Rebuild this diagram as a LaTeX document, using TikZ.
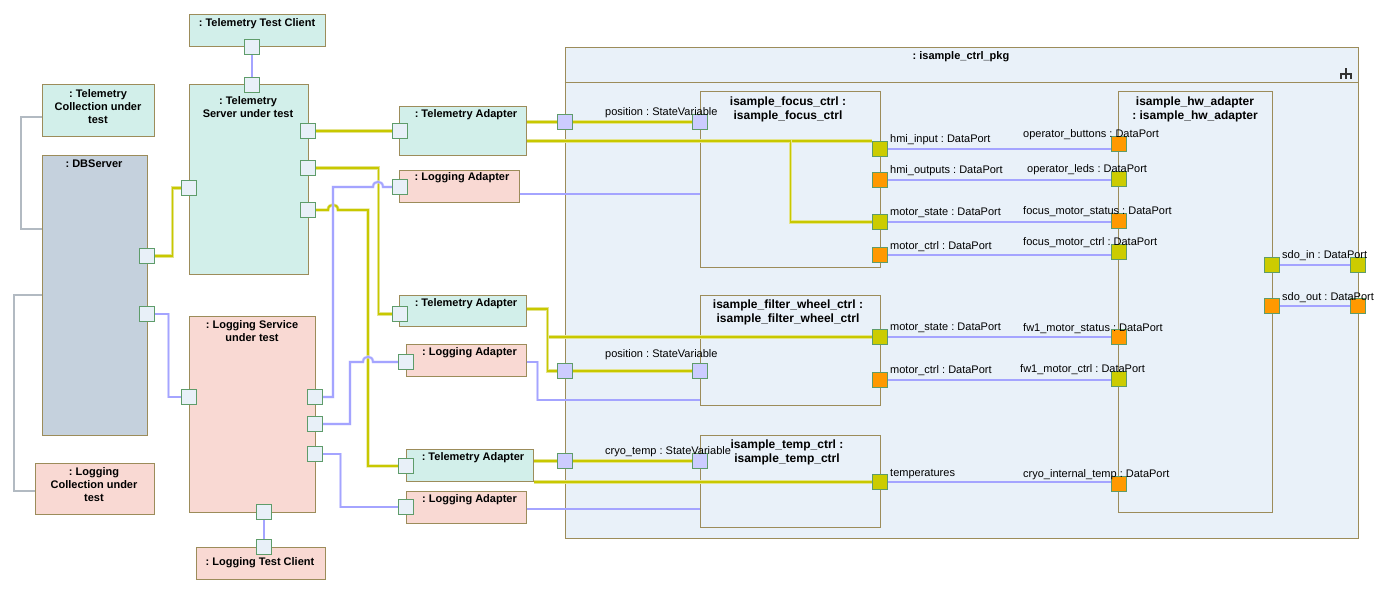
\documentclass[tikz,border=0pt]{standalone}
\usepackage{fontspec}
\setmainfont{Liberation Sans}
\usetikzlibrary{calc}
\frenchspacing
\definecolor{tfill}{HTML}{D2EFEA}
\definecolor{lfill}{HTML}{F9D9D3}
\definecolor{dbfill}{HTML}{C5D1DD}
\definecolor{pkgfill}{HTML}{E9F1F9}
\definecolor{boxc}{HTML}{9C8C5A}
\definecolor{portc}{HTML}{5E9C6A}
\definecolor{portfill}{HTML}{E8F0F8}
\definecolor{bportfill}{HTML}{CCCCFF}
\definecolor{yportfill}{HTML}{CCCC00}
\definecolor{oportfill}{HTML}{FF9900}
\definecolor{ycore}{HTML}{C8C800}
\definecolor{yhalo}{HTML}{E4E48C}
\definecolor{bcore}{HTML}{A4A4FF}
\definecolor{bhalo}{HTML}{D4D4FF}
\definecolor{gcore}{HTML}{B2BAC2}
\definecolor{iconc}{HTML}{333333}
\pgfdeclarelayer{back}
\pgfdeclarelayer{mid}
\pgfsetlayers{back,mid,main}
\tikzset{
 box/.style={draw=boxc, line width=1pt, inner sep=0pt, rectangle},
 ttl/.style={font=\bfseries\fontsize{11}{13}\selectfont, align=center, inner sep=0pt},
 cttl/.style={font=\bfseries\fontsize{12}{14}\selectfont, align=center, inner sep=0pt},
 lbl/.style={font=\fontsize{11}{13}\selectfont, anchor=base west, inner sep=0pt},
 port/.style={draw=portc, line width=1pt, minimum size=15pt, inner sep=0pt, fill=portfill},
 bport/.style={port, fill=bportfill},
 yport/.style={port, fill=yportfill},
 oport/.style={port, fill=oportfill},
 yline/.style={draw=ycore, line width=1.8pt, preaction={draw=yhalo, line width=3.2pt}},
 bline/.style={draw=bcore, line width=1.6pt, preaction={draw=bhalo, line width=2.8pt}},
 gline/.style={draw=gcore, line width=2pt},
}
\begin{document}
\begin{tikzpicture}[x=1pt,y=-1pt]
\useasboundingbox (0,0) rectangle (1390,594);
\begin{pgfonlayer}{back}
\node[box,fill=tfill,minimum width=136pt,minimum height=32pt] (ttc) at (257,31) {};
\node[box,fill=tfill,minimum width=112pt,minimum height=51pt] (tcol) at (98,110.5) {};
\node[box,fill=dbfill,minimum width=105pt,minimum height=280pt] (db) at (94.5,295) {};
\node[box,fill=tfill,minimum width=119pt,minimum height=189pt] (ts) at (248.5,179.5) {};
\node[box,fill=lfill,minimum width=126pt,minimum height=196pt] (ls) at (252,414) {};
\node[box,fill=lfill,minimum width=119pt,minimum height=51pt] (lcol) at (94.5,488.5) {};
\node[box,fill=lfill,minimum width=129pt,minimum height=32pt] (ltc) at (260.5,563) {};
\node[box,fill=tfill,minimum width=127pt,minimum height=49pt] (ta1) at (462.5,130.5) {};
\node[box,fill=lfill,minimum width=120pt,minimum height=32pt] (la1) at (459,186) {};
\node[box,fill=tfill,minimum width=127pt,minimum height=31pt] (ta2) at (462.5,310.5) {};
\node[box,fill=lfill,minimum width=120pt,minimum height=32pt] (la2) at (466,360) {};
\node[box,fill=tfill,minimum width=127pt,minimum height=32pt] (ta3) at (469.5,465) {};
\node[box,fill=lfill,minimum width=120pt,minimum height=32pt] (la3) at (466,507) {};
\node[box,fill=pkgfill,minimum width=793pt,minimum height=490pt] (pkg) at (961.5,293) {};
\draw[boxc,line width=1pt] ($(pkg.north west)+(0,35)$) -- ($(pkg.north east)+(0,35)$);
\node[box,minimum width=180pt,minimum height=175pt] (foc) at (790,179.5) {};
\node[box,minimum width=180pt,minimum height=110pt] (fw) at (790,350) {};
\node[box,minimum width=180pt,minimum height=92pt] (tmp) at (790,481) {};
\node[box,minimum width=154pt,minimum height=420pt] (hw) at (1195,302) {};
\draw[iconc,line width=1.2pt] (1341,79) -- (1341,74) -- (1351,74) -- (1351,79) (1346,68.5) -- (1346,79);
\end{pgfonlayer}
% ports
\node[port] (ttcp) at (252,47) {};
\node[port] (tsptop) at (252,85) {};
\node[port] (tspl) at (189,188) {};
\node[port] (tspr1) at (308,131) {};
\node[port] (tspr2) at (308,168) {};
\node[port] (tspr3) at (308,210) {};
\node[port] (dbp1) at (147,256) {};
\node[port] (dbp2) at (147,314) {};
\node[port] (lspl) at (189,397) {};
\node[port] (lspr1) at (315,397) {};
\node[port] (lspr2) at (315,424) {};
\node[port] (lspr3) at (315,454) {};
\node[port] (lspb) at (264,512) {};
\node[port] (ltcp) at (264,547) {};
\node[port] (ta1p) at (400,131) {};
\node[port] (la1p) at (400,187) {};
\node[port] (ta2p) at (400,314) {};
\node[port] (la2p) at (406,362) {};
\node[port] (ta3p) at (406,466) {};
\node[port] (la3p) at (406,507) {};
\node[bport] (bp1) at (565,122) {};
\node[bport] (bp2) at (565,371) {};
\node[bport] (bp3) at (565,461) {};
\node[bport] (focpos) at (700,122) {};
\node[bport] (fwpos) at (700,371) {};
\node[bport] (tmpcryo) at (700,461) {};
\node[yport] (fochmiin) at (880,149) {};
\node[oport] (fochmiout) at (880,180) {};
\node[yport] (focms) at (880,222) {};
\node[oport] (focmc) at (880,255) {};
\node[yport] (fwms) at (880,337) {};
\node[oport] (fwmc) at (880,380) {};
\node[yport] (tmptemp) at (880,482) {};
\node[oport] (hwob) at (1119,144) {};
\node[yport] (hwleds) at (1119,179) {};
\node[oport] (hwfms) at (1119,221) {};
\node[yport] (hwfmc) at (1119,252) {};
\node[oport] (hwfw1ms) at (1119,337) {};
\node[yport] (hwfw1mc) at (1119,379) {};
\node[oport] (hwcryo) at (1119,484) {};
\node[yport] (hwsdoin) at (1272,265) {};
\node[oport] (hwsdoout) at (1272,306) {};
\node[yport] (pkgsdoin) at (1358,265) {};
\node[oport] (pkgsdoout) at (1358,306) {};
% connectors
\begin{pgfonlayer}{mid}
\draw[gline] ($(tcol.west)+(0,6.5)$) -- ++(-21,0) |- ($(db.west)+(0,-66)$);
\draw[gline] (db.west) -- ++(-28,0) |- ($(lcol.west)+(0,2.5)$);
\draw[yline] (dbp1.east) -- ++(17.5,0) |- (tspl.west);
\draw[bline] (dbp2.east) -- ++(13.5,0) |- (lspl.west);
\draw[bline] (ttcp.south) -- (tsptop.north);
\draw[bline] (lspb.south) -- (ltcp.north);
\draw[yline] (tspr1.east) -- (ta1p.west);
\draw[yline] (tspr2.east) -- ++(62.5,0) |- (ta2p.west);
\draw[yline] (tspr3.east) -- (328,210) .. controls (328,203) and (338,203) .. (338,210) -- (368,210) |- (ta3p.west);
\draw[bline] (lspr1.east) -| (333,187) -- (373,187) .. controls (373,180) and (383,180) .. (383,187) -- (la1p.west);
\draw[bline] (lspr2.east) -| (350,362) -- (363,362) .. controls (363,355) and (373,355) .. (373,362) -- (la2p.west);
\draw[bline] (lspr3.east) -- ++(17.5,0) |- (la3p.west);
% inside package
\draw[yline] (bp1.west -| ta1.east) -- (bp1.west);
\draw[yline] (bp1.east) -- (focpos.west);
\draw[yline] (fochmiin.north west -| ta1.east) -- (fochmiin.north west);
\draw[yline] (fochmiin.north west -| ta1.east) -| ($(focms.west)+(-81.5,0)$) -- (focms.west);
\draw[bline] ($(la1.east)+(0,8)$) coordinate (q1) -- (q1 -| foc.west);
\draw[yline] ($(ta2.east)+(0,-1.5)$) -- ++(21,0) |- (fwms.west);
\draw[yline] ($(ta2.east)+(0,-1.5)$) -- ++(21,0) |- (bp2.west);
\draw[yline] (bp2.east) -- (fwpos.west);
\draw[bline] ($(la2.east)+(0,2)$) -- ++(11,0) |- ($(fw.west)+(0,50)$);
\draw[yline] (bp3.west -| ta3.east) -- (bp3.west);
\draw[yline] (bp3.east) -- (tmpcryo.west);
\draw[yline] (tmptemp.west -| ta3.east) -- (tmptemp.west);
\draw[bline] ($(la3.east)+(0,2)$) coordinate (q3) -- (q3 -| tmp.west);
\draw[bline] (fochmiin.east) -- (fochmiin.east -| hwob.west);
\draw[bline] (fochmiout.east) -- (fochmiout.east -| hwleds.west);
\draw[bline] (focms.east) -- (focms.east -| hwfms.west);
\draw[bline] (focmc.east) -- (focmc.east -| hwfmc.west);
\draw[bline] (fwms.east) -- (fwms.east -| hwfw1ms.west);
\draw[bline] (fwmc.east) -- (fwmc.east -| hwfw1mc.west);
\draw[bline] (tmptemp.east) -- (tmptemp.east -| hwcryo.west);
\draw[bline] (hwsdoin.east) -- (pkgsdoin.west);
\draw[bline] (hwsdoout.east) -- (pkgsdoout.west);
\end{pgfonlayer}
% titles
\node[ttl] (Tttc) at (257,24) {: Telemetry Test Client};
\node[ttl] (Ttcol) at (98,107) {: Telemetry\\Collection under\\test};
\node[ttl] (Tdb) at (94,164) {: DBServer};
\node[ttl] (Tts) at (248,107.5) {: Telemetry\\Server under test};
\node[ttl] (Tls) at (252,331.5) {: Logging Service\\under test};
\node[ttl] (Tlcol) at (94,485) {: Logging\\Collection under\\test};
\node[ttl] (Tltc) at (260,563) {: Logging Test Client};
\node[ttl] (Tta1) at (466,115) {: Telemetry Adapter};
\node[ttl] (Tla1) at (462,178) {: Logging Adapter};
\node[ttl] (Tta2) at (466,304) {: Telemetry Adapter};
\node[ttl] (Tla2) at (469.5,353) {: Logging Adapter};
\node[ttl] (Tta3) at (473,458) {: Telemetry Adapter};
\node[ttl] (Tla3) at (469.5,500) {: Logging Adapter};
\node[ttl] (Tpkg) at (961,57) {: isample\_ctrl\_pkg};
\node[cttl] (Tfoc) at (788,109) {isample\_focus\_ctrl :\\isample\_focus\_ctrl};
\node[cttl] (Tfw) at (788,312.5) {isample\_filter\_wheel\_ctrl :\\isample\_filter\_wheel\_ctrl};
\node[cttl] (Ttmp) at (787,452) {isample\_temp\_ctrl :\\isample\_temp\_ctrl};
\node[cttl] (Thw) at (1195,109.5) {isample\_hw\_adapter\\: isample\_hw\_adapter};
% port labels
\node[lbl] (L1) at (605,115) {position : StateVariable};
\node[lbl] (L2) at (605,357) {position : StateVariable};
\node[lbl] (L3) at (605,454) {cryo\_temp : StateVariable};
\node[lbl] (L4) at (890,142) {hmi\_input : DataPort};
\node[lbl] (L5) at (890,173) {hmi\_outputs : DataPort};
\node[lbl] (L6) at (890,215) {motor\_state : DataPort};
\node[lbl] (L7) at (890,249) {motor\_ctrl : DataPort};
\node[lbl] (L8) at (890,330) {motor\_state : DataPort};
\node[lbl] (L9) at (890,373) {motor\_ctrl : DataPort};
\node[lbl] (L10) at (890,476) {temperatures};
\node[lbl] (L11) at (1023,137) {operator\_buttons : DataPort};
\node[lbl] (L12) at (1027,172) {operator\_leds : DataPort};
\node[lbl] (L13) at (1023,214) {focus\_motor\_status : DataPort};
\node[lbl] (L14) at (1023,245) {focus\_motor\_ctrl : DataPort};
\node[lbl] (L15) at (1023,331) {fw1\_motor\_status : DataPort};
\node[lbl] (L16) at (1020,372) {fw1\_motor\_ctrl : DataPort};
\node[lbl] (L17) at (1023,477) {cryo\_internal\_temp : DataPort};
\node[lbl] (L18) at (1282,258) {sdo\_in : DataPort};
\node[lbl] (L19) at (1282,300) {sdo\_out : DataPort};
\end{tikzpicture}
\end{document}
